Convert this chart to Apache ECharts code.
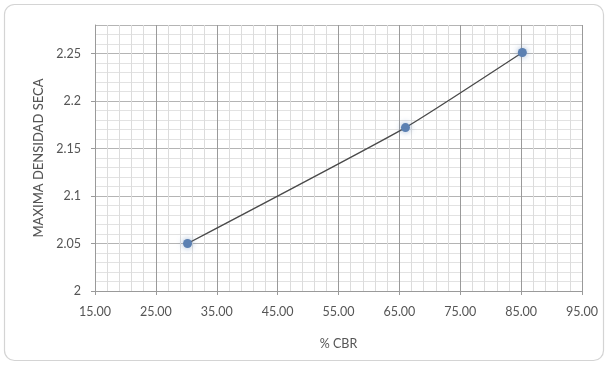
<!DOCTYPE html>
<html>
<head>
<meta charset="utf-8">
<script src="https://cdn.jsdelivr.net/npm/echarts@6/dist/echarts.min.js"></script>
<style>
  html, body { margin: 0; padding: 0; background: #ffffff; }
  #chart { width: 608px; height: 365px; }
</style>
</head>
<body>
<div id="chart"></div>
<script>
// % CBR against maximum dry density
const cbrValues = [30.2, 66.0, 85.2];
const densityValues = [2.05, 2.172, 2.251];

const xTitle = '% CBR';
const yTitle = 'MAXIMA DENSIDAD SECA';

const points = cbrValues.map((x, i) => [x, densityValues[i]]);

const labelFont = { fontFamily: 'Lato, "Open Sans", sans-serif', fontSize: 12.5, color: '#555' };

const chart = echarts.init(document.getElementById('chart'), null, { renderer: 'canvas' });
chart.setOption({
  backgroundColor: '#ffffff',
  animation: false,
  graphic: [{
    type: 'rect',
    shape: { x: 4.5, y: 4.5, width: 599, height: 356, r: 10 },
    style: { fill: 'none', stroke: '#d4d4d4', lineWidth: 1.2 },
    silent: true,
    z: -1
  }],
  grid: { left: 95, right: 26, top: 25, bottom: 74 },
  xAxis: {
    type: 'value',
    min: 15, max: 95, interval: 10,
    name: xTitle,
    nameLocation: 'middle',
    nameGap: 46,
    nameTextStyle: { ...labelFont, fontSize: 12.5 },
    axisLine: { show: true, lineStyle: { color: '#9a9a9a' } },
    axisTick: { show: true, length: 4, lineStyle: { color: '#9a9a9a' } },
    axisLabel: { ...labelFont, margin: 14, formatter: v => v.toFixed(2) },
    splitLine: { show: true, lineStyle: { color: '#9a9a9a', width: 1 } },
    minorTick: { show: false, splitNumber: 5 },
    minorSplitLine: { show: true, lineStyle: { color: '#dcdcdc', width: 1 } }
  },
  yAxis: {
    type: 'value',
    min: 2, max: 2.28, interval: 0.05,
    name: yTitle,
    nameLocation: 'middle',
    nameGap: 50,
    nameRotate: 90,
    nameTextStyle: { ...labelFont, fontSize: 13, fontWeight: 500 },
    axisLine: { show: true, lineStyle: { color: '#9a9a9a' } },
    axisTick: { show: true, length: 4, lineStyle: { color: '#9a9a9a' } },
    axisLabel: {
      ...labelFont, margin: 14, showMaxLabel: false,
      formatter: v => (v > 2.26 ? '' : String(+v.toFixed(2)))
    },
    splitLine: { show: true, lineStyle: { color: '#b4b4b4', width: 1 } },
    minorTick: { show: false, splitNumber: 5 },
    minorSplitLine: { show: true, lineStyle: { color: '#e2e2e2', width: 1 } }
  },
  series: [{
    type: 'line',
    data: points,
    smooth: 0.15,
    symbol: 'circle',
    symbolSize: 9,
    lineStyle: { color: '#4a4a4a', width: 1.3 },
    itemStyle: { color: '#5b80b2', shadowBlur: 6, shadowColor: 'rgba(91,128,178,0.6)' },
    z: 5
  }]
});
</script>
</body>
</html>
